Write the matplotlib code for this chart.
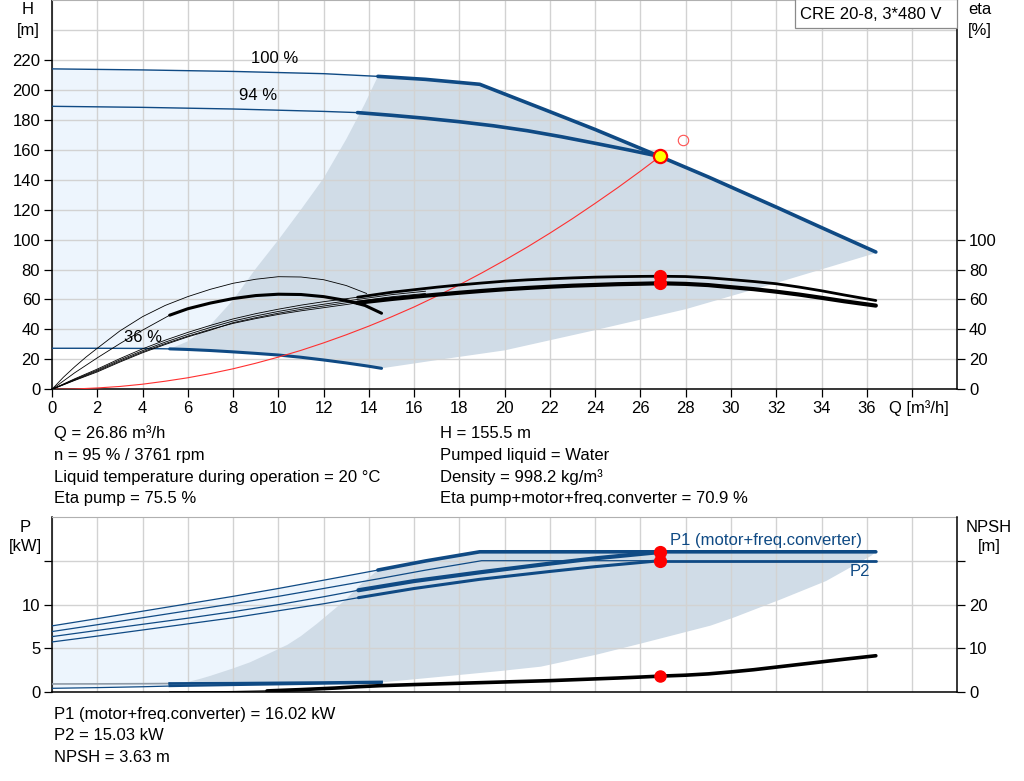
import matplotlib
matplotlib.use("Agg")
import matplotlib.pyplot as plt
from matplotlib.patches import Rectangle

plt.rcParams['font.family'] = ['Liberation Sans', 'DejaVu Sans']
plt.rcParams['font.size'] = 12

# ---------------- data (top: head / efficiency) ----------------
q100 = [0, 4, 8, 12, 14.4, 16.5, 18.9, 22, 24, 26.86, 29, 32.1, 34, 36.4]
h100 = [214, 213.3, 212.3, 210.8, 209, 207, 203.7, 185.4, 173.5, 155.5, 141.8, 121, 108, 91.7]
q94 = [0, 4, 8, 12, 13.5, 15, 16.5, 18, 19.5, 21, 22.5, 24, 25.5, 26.86]
h94 = [189, 188.3, 187.2, 185.6, 184.8, 183.0, 181.0, 178.7, 176.0, 172.7, 168.7, 164.3, 159.8, 155.5]
q36 = [0, 2, 4, 5.2, 6, 7, 8, 9, 10, 11, 12, 13, 14, 14.56]
h36 = [27.4, 27.4, 27.3, 27.0, 26.6, 25.9, 25.0, 24.0, 22.9, 21.4, 19.6, 17.6, 15.4, 14.0]

qb_left = [5.2, 6, 7, 8, 9, 10, 11, 12, 13, 13.8, 14.4]
hb_left = [27, 32, 43, 59.6, 80.5, 99.7, 120, 141, 167, 190, 209]
qb_bot = [36.4, 32, 28, 24, 20, 17, 14.56]
hb_bot = [91, 71, 53.5, 39.5, 26, 19.5, 14.0]

q_sys = [0, 1, 2, 3, 4, 5, 6, 7, 8, 9, 10, 11, 12, 13, 14, 15, 16, 17, 18, 19, 20,
         21, 22, 23, 24, 25, 26, 26.86]
h_sys = [0, 0.2, 0.9, 1.9, 3.4, 5.4, 7.7, 10.5, 13.7, 17.4, 21.5, 26, 31, 36.4, 42.2,
         48.4, 55, 62.2, 69.8, 77.8, 86.2, 95, 104.3, 114, 124.2, 134.7, 145.7, 155.5]

q_eta = [0, 1, 2, 3, 4, 5, 6, 7, 8, 9, 10, 11, 12, 13, 13.5, 15, 16, 17, 18, 19, 20,
         21, 22, 23, 24, 25, 26, 26.86, 28, 29, 30, 31, 32, 33, 34, 35, 36.4]
eta_pump = [0, 7, 13.5, 20.5, 27, 32.8, 38, 42.7, 47, 50.5, 53.5, 56.2, 58.5, 60.5, 61.5,
            64.8, 66.5, 68.2, 69.7, 71.0, 72.2, 73.1, 73.8, 74.4, 74.9, 75.2, 75.4, 75.5,
            75.3, 74.5, 73.3, 72.0, 70.5, 68.3, 65.8, 63.0, 59.3]
eta_tot = [0, 6.2, 12.2, 18.8, 25, 30.5, 35.5, 40, 44, 47.2, 50, 52.4, 54.5, 56.6, 57.8,
           60.3, 61.8, 63.2, 64.5, 65.7, 66.8, 67.7, 68.5, 69.2, 69.7, 70.2, 70.5, 70.8,
           70.4, 69.6, 68.2, 66.9, 65.2, 63.3, 61.1, 58.8, 55.9]
q_eta_x = [0, 1, 2, 3, 4, 5, 6, 7, 8, 9, 10, 11, 12, 13, 13.5, 15, 16.5]
eta_x1 = [0, 6.6, 12.8, 19.6, 25.8, 31.5, 36.6, 41.3, 45.6, 49.0, 52, 54.6, 56.8, 59.0, 60, 63.2, 65.5]
eta_x2 = [0, 5.9, 11.6, 18.2, 24.4, 29.9, 35, 39.5, 44.5, 47.8, 50.8, 53.4, 55.6, 57.8, 58.8, 61.8, 64]
q_eta36a = [0, 0.5, 1, 1.5, 2, 3, 4, 5, 6, 7, 8, 9, 10, 11, 12, 13, 13.9]
eta36a = [0, 8, 15, 21.5, 27.4, 39, 48.5, 56, 61.9, 66.8, 70.8, 73.5, 75.2, 75.0, 73.2, 69.3, 64]
q_eta36b = [0, 1, 2, 3, 4, 5.2, 6, 7, 8, 9, 10, 11, 12, 13, 13.83, 14.56]
eta36b = [0, 11, 21, 30.5, 39.5, 49.5, 53.8, 57.6, 60.6, 62.6, 63.5, 63.3, 61.9, 59.3, 56.0, 50.8]

# ---------------- data (bottom: power / NPSH) ----------------
q_p1_100 = [0, 2, 4, 6, 8, 10, 12, 14.4, 16.5, 18.9, 26.86, 36.4]
p1_100 = [7.57, 8.4, 9.25, 10.1, 10.95, 11.85, 12.8, 13.96, 15.0, 16.05, 16.05, 16.05]
q_p2_100 = [0, 2, 4, 6, 8, 10, 12, 14.4, 16.5, 18.98, 26.86, 36.4]
p2_100 = [6.92, 7.7, 8.5, 9.3, 10.1, 10.95, 11.85, 12.95, 13.95, 15.03, 15.03, 15.03]
q_p94 = [0, 2, 4, 6, 8, 10, 12, 13.54, 16, 18.9, 22, 24, 26.86]
p1_94 = [6.34, 7.05, 7.75, 8.45, 9.2, 10.0, 10.9, 11.65, 12.7, 13.7, 14.7, 15.3, 16.02]
p2_94 = [5.73, 6.4, 7.1, 7.8, 8.5, 9.3, 10.1, 10.8, 11.85, 12.9, 13.8, 14.35, 15.03]
q_p36 = [0, 2, 4, 5.2, 8, 10, 12, 14.56]
p1_36 = [0.92, 0.93, 0.95, 0.97, 1.0, 1.04, 1.08, 1.15]
p2_36 = [0.42, 0.5, 0.6, 0.68, 0.8, 0.88, 0.96, 1.05]

qp_left = [5.17, 6, 6.54, 7, 8.0, 8.75, 9.5, 10.4, 11, 11.7, 12.3, 12.9, 13.6, 14.4]
pp_left = [0.68, 1.15, 1.5, 1.85, 2.7, 3.4, 4.3, 5.4, 6.4, 7.8, 9.1, 10.4, 12.2, 13.96]
qp_bot = [36.4, 36.2, 34.2, 32.2, 30.1, 29.1, 26.1, 24.1, 21.6, 19.8, 17, 14.56]
pp_bot = [16.05, 15.6, 12.7, 10.6, 8.5, 7.6, 5.6, 4.3, 2.9, 2.4, 1.7, 1.1]

q_npsh = [5.2, 7, 8, 9.5, 11, 12.5, 13.5, 14.5, 16, 18, 20, 22, 24, 25, 26, 26.86,
          28, 29, 30, 31, 32, 33, 34, 35, 36.4]
npsh = [0.0, 0.05, 0.1, 0.25, 0.55, 0.9, 1.2, 1.45, 1.7, 2.0, 2.3, 2.6, 3.0, 3.2, 3.42,
        3.63, 3.85, 4.15, 4.6, 5.1, 5.7, 6.3, 6.9, 7.5, 8.3]

op_q, op_h = 26.86, 155.5
op_eta_pump, op_eta_tot = 75.5, 70.9
op_p1, op_p2, op_npsh = 16.02, 15.03, 3.63
req_q, req_h = 27.9, 166.5

x_ticks = list(range(0, 40, 2))
x_labels = [str(v) for v in range(0, 38, 2)] + ['']

info_left = ["Q = 26.86 m³/h", "n = 95 % / 3761 rpm",
             "Liquid temperature during operation = 20 °C", "Eta pump = 75.5 %"]
info_right = ["H = 155.5 m", "Pumped liquid = Water", "Density = 998.2 kg/m³",
              "Eta pump+motor+freq.converter = 70.9 %"]
info_bottom = ["P1 (motor+freq.converter) = 16.02 kW", "P2 = 15.03 kW", "NPSH = 3.63 m"]

# ---------------- styles ----------------
BLUE = '#0f4a84'
LIGHT = '#edf5fd'
DARK = '#d0dce7'
GRID = '#d2d2d2'
FS = 12
W, H = 1024, 781

fig = plt.figure(figsize=(W / 100, H / 100), dpi=100)


def axrect(x0, y0, x1, y1):
    return [x0 / W, 1 - y1 / H, (x1 - x0) / W, (y1 - y0) / H]


def ftext(px, py, s, **kw):
    fig.text(px / W, 1 - py / H, s, **kw)


def style_main(ax):
    ax.set_xlim(0, 40)
    ax.set_xticks(x_ticks)
    ax.grid(True, color=GRID, lw=1.0)
    for s in ['left', 'bottom']:
        ax.spines[s].set_color('black')
        ax.spines[s].set_linewidth(1.1)
    ax.spines['top'].set_color('#b0b0b0')
    ax.spines['right'].set_visible(False)
    ax.tick_params(direction='out', length=6, width=0.9, pad=2.5, labelsize=FS)


def style_twin(ax):
    for s in ['left', 'bottom', 'top']:
        ax.spines[s].set_visible(False)
    ax.spines['right'].set_color('black')
    ax.spines['right'].set_linewidth(1.1)
    ax.tick_params(direction='out', length=6, width=0.9, pad=2.5, labelsize=FS)


# ================= top axes =================
ax1 = fig.add_axes(axrect(52, 0, 957.3, 389.3))
style_main(ax1)
ax1.set_ylim(0, 260)
ax1.set_yticks(list(range(0, 240, 20)))
ax1.set_xticklabels(x_labels)
ax1.axhline(240, color=GRID, lw=1.0, zorder=1.5)

i144 = q100.index(14.4)
i52 = q36.index(5.2)
# light region (whole speed range, left part)
ax1.fill(q100[:i144 + 1] + q36[::-1], h100[:i144 + 1] + h36[::-1], color=LIGHT, lw=0, zorder=1)
# dark region (recommended range)
ax1.fill(qb_left + q100[i144:] + qb_bot + q36[i52:][::-1],
         hb_left + h100[i144:] + hb_bot + h36[i52:][::-1], color=DARK, lw=0, zorder=1)

# head curves
ax1.plot(q100[:i144 + 1], h100[:i144 + 1], color=BLUE, lw=1.0, zorder=3)
ax1.plot(q100[i144:], h100[i144:], color=BLUE, lw=2.6, zorder=3, solid_capstyle='round')
i135 = q94.index(13.5)
ax1.plot(q94[:i135 + 1], h94[:i135 + 1], color=BLUE, lw=1.0, zorder=3)
ax1.plot(q94[i135:], h94[i135:], color=BLUE, lw=2.6, zorder=3, solid_capstyle='round')
ax1.plot(q36[:i52 + 1], h36[:i52 + 1], color=BLUE, lw=1.0, zorder=3)
ax1.plot(q36[i52:], h36[i52:], color=BLUE, lw=2.2, zorder=3, solid_capstyle='round')

# system curve and duty points
ax1.plot(q_sys, h_sys, color='#ff3030', lw=0.8, zorder=4)
ax1.plot([req_q], [req_h], 'o', ms=7.5, mfc='none', mec='#ff5050', mew=0.8, zorder=6)
ax1.plot([op_q], [op_h], 'o', ms=9.5, mfc='#ffff00', mec='#ff0000', mew=1.6, zorder=7)

ax1.text(9.85, 221.0, "100 %", ha='center', va='center', fontsize=FS)
ax1.text(9.1, 196.0, "94 %", ha='center', va='center', fontsize=FS)
ax1.text(4.0, 34.5, "36 %", ha='center', va='center', fontsize=FS)

# efficiency twin
ax1t = ax1.twinx()
style_twin(ax1t)
ax1t.set_ylim(0, 260)
ax1t.set_yticks(list(range(0, 120, 20)))
ax1t.plot(q_eta36a, eta36a, color='black', lw=0.6)
i_b = q_eta36b.index(5.2)
ax1t.plot(q_eta36b[:i_b + 1], eta36b[:i_b + 1], color='black', lw=0.6)
ax1t.plot(q_eta36b[i_b:], eta36b[i_b:], color='black', lw=2.2, solid_capstyle='round')
ax1t.plot(q_eta_x, eta_x1, color='black', lw=0.6)
ax1t.plot(q_eta_x, eta_x2, color='black', lw=0.6)
ie = q_eta.index(13.5)
ax1t.plot(q_eta[:ie + 1], eta_pump[:ie + 1], color='black', lw=0.6)
ax1t.plot(q_eta[:ie + 1], eta_tot[:ie + 1], color='black', lw=0.6)
ax1t.plot(q_eta[ie:], eta_pump[ie:], color='black', lw=2.0, solid_capstyle='round')
ax1t.plot(q_eta[ie:], eta_tot[ie:], color='black', lw=3.0, solid_capstyle='round')
ax1t.plot([op_q, op_q], [op_eta_pump, op_eta_tot], 'o', ms=8.5, color='#ff0000', zorder=7)

# product box
fig.patches.append(Rectangle((795 / W, 1 - 28.3 / H), (957.3 - 795) / W, 29.5 / H,
                             transform=fig.transFigure, fc='white', ec='#8a8a8a', lw=0.9,
                             zorder=10))
ftext(871, 14.5, "CRE 20-8, 3*480 V", ha='center', va='center', fontsize=FS, zorder=11)

ftext(28, 10, "H", ha='center', va='center')
ftext(28, 30, "[m]", ha='center', va='center')
ftext(980, 10, "eta", ha='center', va='center')
ftext(980, 30, "[%]", ha='center', va='center')
ftext(919, 408, "Q [m³/h]", ha='center', va='center')

for i, s in enumerate(info_left):
    ftext(54, 438 + i * 21.8, s, ha='left', va='baseline')
for i, s in enumerate(info_right):
    ftext(439.5, 438 + i * 21.8, s, ha='left', va='baseline')

# ================= bottom axes =================
ax2 = fig.add_axes(axrect(52, 517.3, 957.3, 692))
style_main(ax2)
ax2.set_ylim(0, 20)
ax2.set_yticks([0, 5, 10, 15])
ax2.set_yticklabels(['0', '5', '10', ''])
ax2.tick_params(axis='x', length=0, labelbottom=False)

ip = q_p1_100.index(14.4)
ip36 = q_p36.index(5.2)
ax2.fill(q_p1_100[:ip + 1] + q_p36[::-1], p1_100[:ip + 1] + p2_36[::-1], color=LIGHT, lw=0, zorder=1)
ax2.fill(qp_left + q_p1_100[ip:] + qp_bot + q_p36[ip36:][::-1],
         pp_left + p1_100[ip:] + pp_bot + p2_36[ip36:][::-1], color=DARK, lw=0, zorder=1)

ax2.plot(q_p1_100[:ip + 1], p1_100[:ip + 1], color=BLUE, lw=0.9, zorder=3)
ax2.plot(q_p1_100[ip:], p1_100[ip:], color=BLUE, lw=2.6, zorder=3, solid_capstyle='round')
iop = q_p2_100.index(26.86)
ax2.plot(q_p2_100[:iop + 1], p2_100[:iop + 1], color=BLUE, lw=0.9, zorder=3)
ax2.plot(q_p2_100[iop:], p2_100[iop:], color=BLUE, lw=2.0, zorder=3, solid_capstyle='round')
i94 = q_p94.index(13.54)
ax2.plot(q_p94[:i94 + 1], p1_94[:i94 + 1], color=BLUE, lw=0.9, zorder=3)
ax2.plot(q_p94[i94:], p1_94[i94:], color=BLUE, lw=3.0, zorder=3, solid_capstyle='round')
ax2.plot(q_p94[:i94 + 1], p2_94[:i94 + 1], color=BLUE, lw=0.9, zorder=3)
ax2.plot(q_p94[i94:], p2_94[i94:], color=BLUE, lw=2.2, zorder=3, solid_capstyle='round')
ax2.plot(q_p36[:ip36 + 1], p1_36[:ip36 + 1], color='#8f9aa6', lw=1.2, zorder=3)
ax2.plot(q_p36[ip36:], p1_36[ip36:], color=BLUE, lw=2.0, zorder=3)
ax2.plot(q_p36[:ip36 + 1], p2_36[:ip36 + 1], color=BLUE, lw=0.9, zorder=3)
ax2.plot(q_p36[ip36:], p2_36[ip36:], color=BLUE, lw=1.6, zorder=3)
ax2.plot([op_q, op_q], [op_p1, op_p2], 'o', ms=8.5, color='#ff0000', zorder=7)

ax2.text(31.55, 17.3, "P1 (motor+freq.converter)", color=BLUE, ha='center', va='center', fontsize=FS)
ax2.text(36.15, 13.85, "P2", color=BLUE, ha='right', va='center', fontsize=FS)

ax2t = ax2.twinx()
style_twin(ax2t)
ax2t.set_ylim(0, 40)
ax2t.set_yticks([0, 10, 20, 30])
ax2t.set_yticklabels(['0', '10', '20', ''])
inp = q_npsh.index(9.5)
ax2t.plot(q_npsh[:inp + 1], npsh[:inp + 1], color='black', lw=0.9)
ax2t.plot(q_npsh[inp:], npsh[inp:], color='black', lw=2.6, solid_capstyle='round')
ax2t.plot([op_q], [op_npsh], 'o', ms=8.0, color='#ff0000', zorder=7)

ftext(25, 527, "P", ha='center', va='center')
ftext(25, 547, "[kW]", ha='center', va='center')
ftext(989, 527, "NPSH", ha='center', va='center')
ftext(989, 547, "[m]", ha='center', va='center')

for i, s in enumerate(info_bottom):
    ftext(54, 718.5 + i * 21.7, s, ha='left', va='baseline')

fig.savefig("out.png", dpi=100)
